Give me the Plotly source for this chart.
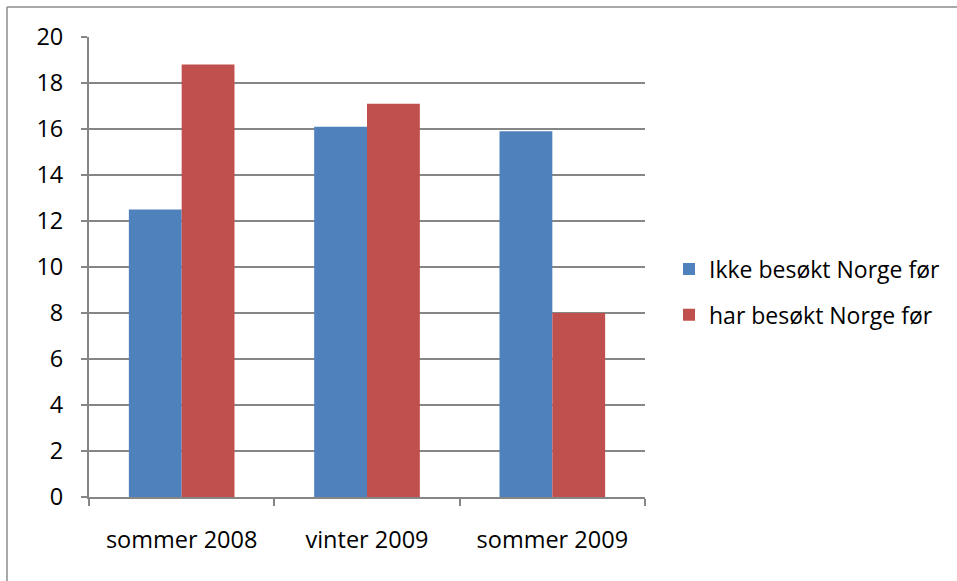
import plotly.graph_objects as go

categories = ["sommer 2008", "vinter 2009", "sommer 2009"]
ikke_besokt = [12.5, 16.1, 15.9]
har_besokt = [18.8, 17.1, 8.0]
series_names = ["Ikke besøkt Norge før", "har besøkt Norge før"]
y_ticks = [0, 2, 4, 6, 8, 10, 12, 14, 16, 18, 20]

W, H = 957, 581
L, R, T, B = 89, 312, 37, 84
pw, ph = W - L - R, H - T - B

font = dict(family="Open Sans, Noto Sans, sans-serif", size=23.5, color="#000000")

fig = go.Figure()
fig.add_trace(go.Bar(x=categories, y=ikke_besokt, name=series_names[0],
                     marker=dict(color="#4F81BD", line=dict(width=0)),
                     legendgroup="a"))
fig.add_trace(go.Bar(x=categories, y=har_besokt, name=series_names[1],
                     marker=dict(color="#C0504D", line=dict(width=0)),
                     legendgroup="b"))

# outer chart frame (left and top edges visible)
fx0 = (7 - L) / pw
fy0 = 1 + (T - 7) / ph
fig.add_shape(type="line", xref="paper", yref="paper", x0=fx0, x1=fx0,
              y0=-(H - T - ph) / ph - 0.01, y1=fy0, line=dict(color="#8C8C8C", width=1.5))
fig.add_shape(type="line", xref="paper", yref="paper", x0=fx0, x1=(W - L) / pw + 0.01,
              y0=fy0, y1=fy0, line=dict(color="#8C8C8C", width=1.5))

fig.update_layout(
    width=W, height=H,
    margin=dict(l=L, r=R, t=T, b=B, autoexpand=False),
    paper_bgcolor="white", plot_bgcolor="white",
    barmode="group", bargap=0.43, bargroupgap=0,
    font=font,
    showlegend=True,
    legend=dict(x=(669 - L) / pw, y=(H - B - 292) / ph, xanchor="left", yanchor="middle",
                font=dict(size=23), traceorder="grouped", tracegroupgap=13,
                itemwidth=30, bgcolor="rgba(0,0,0,0)"),
    xaxis=dict(type="category", showline=True, linecolor="#868686", linewidth=2,
               ticks="outside", tickson="boundaries", ticklen=7, tickcolor="#868686",
               tickwidth=2, showgrid=False, tickfont=font, ticklabelstandoff=21),
    yaxis=dict(range=[0, 20], tickvals=y_ticks, showline=True, linecolor="#868686",
               linewidth=2, ticks="outside", ticklen=6, tickcolor="#868686", tickwidth=2,
               showgrid=True, gridcolor="#868686", gridwidth=1.5, zeroline=False,
               tickfont=font, ticklabelstandoff=13),
)

fig.write_html("out.html")
